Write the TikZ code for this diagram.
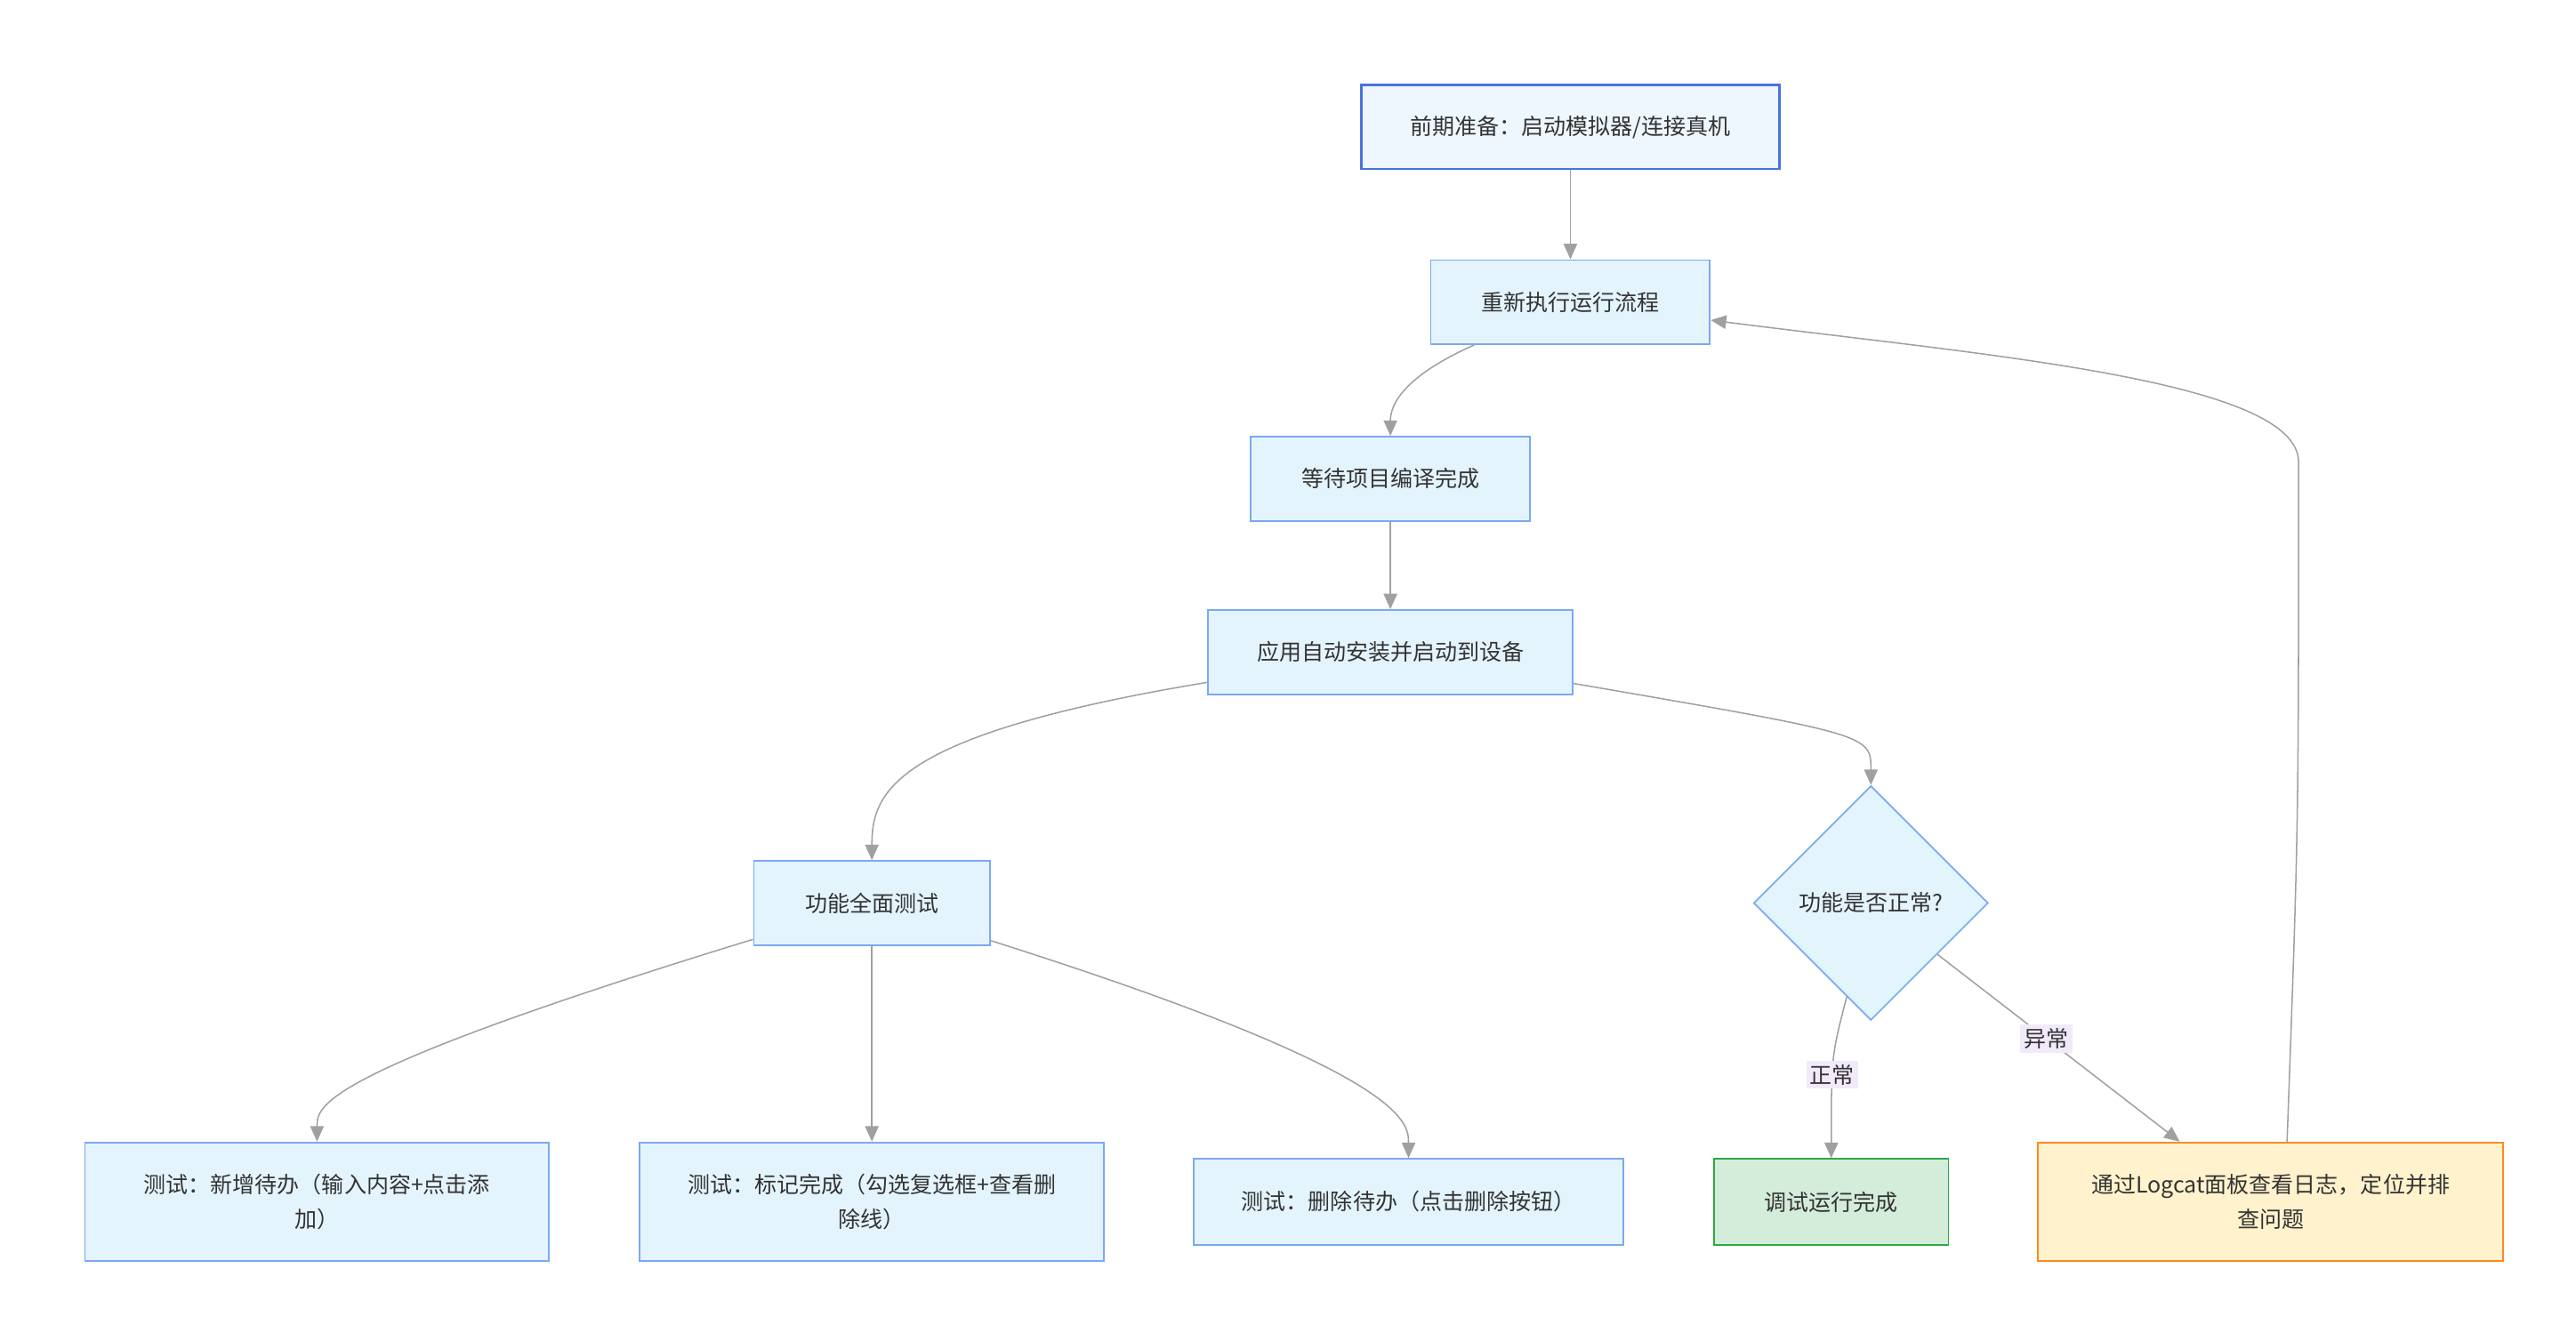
\documentclass[tikz,border=0pt]{standalone}
\usepackage{fontspec}
\setmainfont{Noto Sans CJK SC}
\usetikzlibrary{shapes.geometric,arrows.meta}
\definecolor{boxfill}{HTML}{E4F4FD}
\definecolor{boxline}{HTML}{7BA9F2}
\definecolor{prepfill}{HTML}{EEF6FE}
\definecolor{prepline}{HTML}{4A72E0}
\definecolor{okfill}{HTML}{D4ECDA}
\definecolor{okline}{HTML}{2EA843}
\definecolor{errfill}{HTML}{FFF2CC}
\definecolor{errline}{HTML}{FF8A1F}
\definecolor{edgegray}{HTML}{A0A0A0}
\definecolor{tagfill}{HTML}{F2EAFB}
\tikzset{
    stage/.style = {draw = boxline, fill = boxfill, line width = 0.8pt, minimum height = 1.53cm,
        align = center, font = \fontsize{11.5}{18}\selectfont, text = black!80},
    link/.style = {draw = edgegray, line width = 0.7pt, -{Triangle[length = 8pt, width = 7pt, fill = edgegray]}},
    tag/.style = {fill = tagfill, inner sep = 2pt, font = \fontsize{11.5}{14}\selectfont, text = black!80}
}
\begin{document}
\begin{tikzpicture}[x = 0.03cm, y = -0.03cm]
            \useasboundingbox (0, 0) rectangle (1560, 812);

            \node[stage, minimum width = 7.59cm, draw = prepline, fill = prepfill, line width = 1.1pt] (prep) at (951, 77) {前期准备：启动模拟器/连接真机};
            \node[stage, minimum width = 5.07cm] (rerun) at (951, 183) {重新执行运行流程};
            \node[stage, minimum width = 5.07cm] (wait) at (842, 290) {等待项目编译完成};
            \node[stage, minimum width = 6.63cm] (install) at (842, 395) {应用自动安装并启动到设备};
            \node[stage, minimum width = 4.29cm] (test) at (528, 547) {功能全面测试};
            \node[stage, diamond, aspect = 1, inner sep = 0pt, minimum size = 4.26cm] (check) at (1133, 547) {功能是否正常?};

            \node[stage, minimum width = 8.43cm, minimum height = 2.16cm] (add) at (192, 728) {测试：新增待办（输入内容+点击添\\加）};
            \node[stage, minimum width = 8.43cm, minimum height = 2.16cm] (mark) at (528, 728) {测试：标记完成（勾选复选框+查看删\\除线）};
            \node[stage, minimum width = 7.8cm, minimum height = 1.56cm] (del) at (853, 728) {测试：删除待办（点击删除按钮）};
            \node[stage, minimum width = 4.26cm, minimum height = 1.56cm, draw = okline, fill = okfill] (done) at (1109, 728) {调试运行完成};
            \node[stage, minimum width = 8.46cm, minimum height = 2.16cm, draw = errline, fill = errfill] (log) at (1375, 728) {通过Logcat面板查看日志，定位并排\\查问题};

            \draw[link] (prep) -- (rerun);
            \draw[link] (rerun) .. controls (850, 228) and (842, 245) .. (wait);
            \draw[link] (wait) -- (install);
            \draw[link] (install) .. controls (540, 445) and (528, 480) .. (test);
            \draw[link] (install) .. controls (1133, 445) .. (check);
            \draw[link] (test) .. controls (192, 650) and (192, 670) .. (add);
            \draw[link] (test) -- (mark);
            \draw[link] (test) .. controls (853, 650) and (853, 680) .. (del);
            \draw[link] (check) .. controls (1109, 640) .. node[tag, pos = 0.6] {正常} (done);
            \draw[link] (check) -- node[tag, pos = 0.45] {异常} ([xshift = -1.65cm]log.north);
            \draw[link] ([xshift = 0.3cm]log.north) .. controls (1392, 500) .. (1392, 280)
                .. controls (1392, 230) and (1200, 215) .. (rerun);
        \end{tikzpicture}
\end{document}
